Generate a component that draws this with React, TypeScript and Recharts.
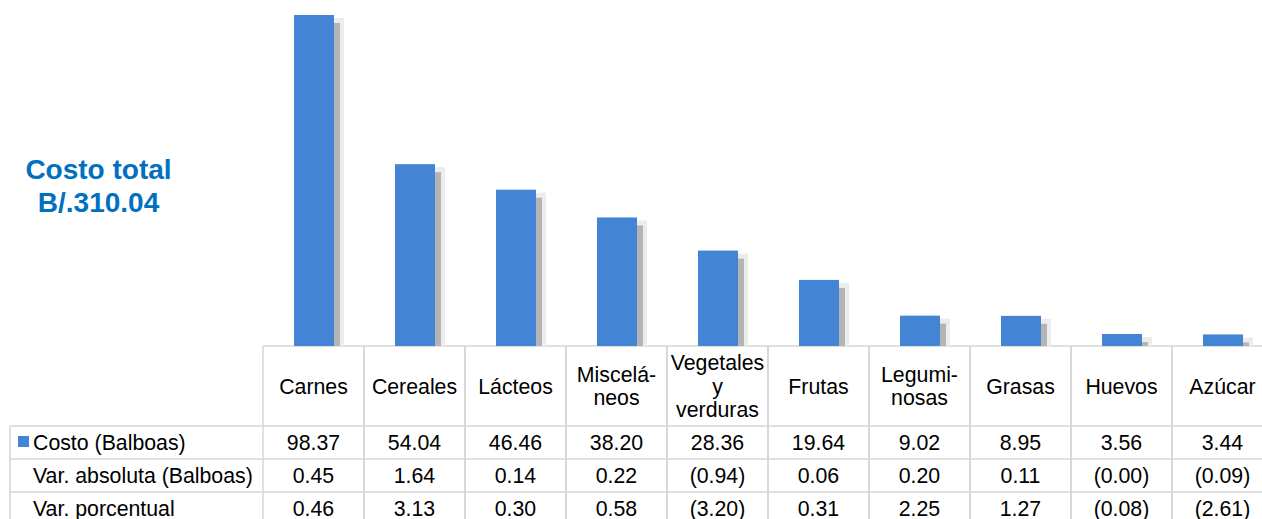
import { Bar, BarChart, XAxis, YAxis, Customized } from "recharts";

const categories = [
  "Carnes",
  "Cereales",
  "Lácteos",
  "Miscelá-\nneos",
  "Vegetales\ny\nverduras",
  "Frutas",
  "Legumi-\nnosas",
  "Grasas",
  "Huevos",
  "Azúcar",
];
const costo = [98.37, 54.04, 46.46, 38.2, 28.36, 19.64, 9.02, 8.95, 3.56, 3.44];
const varAbsoluta = [0.45, 1.64, 0.14, 0.22, -0.94, 0.06, 0.2, 0.11, -0, -0.09];
const varPorcentual = [0.46, 3.13, 0.3, 0.58, -3.2, 0.31, 2.25, 1.27, -0.08, -2.61];
const rowLabels = ["Costo (Balboas)", "Var. absoluta (Balboas)", "Var. porcentual"];

const data = categories.map((name, i) => ({
  name,
  costo: costo[i],
  varAbs: varAbsoluta[i],
  varPct: varPorcentual[i],
}));

const BLUE = "#4484d4";
const GRID = "#d6d6d6";
const FONT = "'Liberation Sans', Arial, sans-serif";

const LEFT = 263;
const TOP = 15;
const BASE = 346;
const WIDTH = 1273;
const HEIGHT = 519;
const COL_W = (WIDTH - LEFT) / categories.length;
const HEADER_BOTTOM = 426;
const ROW_H = 33;

const fmt = (v: number) =>
  v < 0 || Object.is(v, -0) ? `(${Math.abs(v).toFixed(2)})` : v.toFixed(2);

// bar with the soft grey drop shadow on the right
function ShadowBar(props: any) {
  const { x, y, width, height } = props;
  if (height <= 0) return null;
  return (
    <g>
      <rect x={x + 3} y={y + 3} width={width + 7} height={height - 3} fill="#ececec" />
      <rect x={x + 5} y={y + 8} width={width + 1} height={height - 8} fill="#b4b4b4" />
      <rect x={x} y={y} width={width} height={height} fill={BLUE} />
    </g>
  );
}

function TableTick(props: any) {
  const { x, payload, index } = props;
  const left = x - COL_W / 2;
  const lines = String(payload.value).split("\n");
  const lh = 23.5;
  const headerMid = (BASE + HEADER_BOTTOM) / 2;
  const startY = headerMid - ((lines.length - 1) * lh) / 2 + 7.5;
  const vals = [fmt(costo[index]), fmt(varAbsoluta[index]), fmt(varPorcentual[index])];
  return (
    <g fontFamily={FONT} fontSize={21.3} fill="#000">
      <line x1={left} y1={BASE} x2={left} y2={HEIGHT} stroke={GRID} strokeWidth={1.5} />
      <line x1={left + COL_W} y1={BASE} x2={left + COL_W} y2={HEIGHT} stroke={GRID} strokeWidth={1.5} />
      {lines.map((l, i) => (
        <text key={i} x={x} y={startY + i * lh} textAnchor="middle" fill="#000">
          {l}
        </text>
      ))}
      {vals.map((v, i) => (
        <text
          key={"v" + i}
          x={x}
          y={HEADER_BOTTOM + ROW_H * i + ROW_H / 2 + 7.5}
          textAnchor="middle"
          fill="#000"
        >
          {v}
        </text>
      ))}
    </g>
  );
}

function TableFrame() {
  return (
    <g fontFamily={FONT} fontSize={21.3}>
      <line x1={LEFT} y1={BASE} x2={WIDTH} y2={BASE} stroke={GRID} strokeWidth={1.5} />
      {[0, 1, 2, 3].map((i) => (
        <line
          key={i}
          x1={10}
          y1={HEADER_BOTTOM + ROW_H * i}
          x2={WIDTH}
          y2={HEADER_BOTTOM + ROW_H * i}
          stroke={GRID}
          strokeWidth={1.5}
        />
      ))}
      <line x1={10} y1={HEADER_BOTTOM} x2={10} y2={HEIGHT} stroke={GRID} strokeWidth={1.5} />
      <rect x={18} y={436} width={11} height={11} fill={BLUE} />
      {rowLabels.map((l, i) => (
        <text key={l} x={33} y={HEADER_BOTTOM + ROW_H * i + ROW_H / 2 + 7.5} fill="#000">
          {l}
        </text>
      ))}
      <text
        x={98.5}
        y={179}
        textAnchor="middle"
        fontSize={28}
        fontWeight="bold"
        fill="#0070c0"
      >
        Costo total
      </text>
      <text
        x={98.5}
        y={212}
        textAnchor="middle"
        fontSize={28}
        fontWeight="bold"
        fill="#0070c0"
      >
        B/.310.04
      </text>
    </g>
  );
}

export default function App() {
  return (
    <div
      style={{
        position: "fixed",
        left: 0,
        top: 0,
        width: 1262,
        height: 519,
        overflow: "hidden",
        background: "#fff",
      }}
    >
      <BarChart
        width={WIDTH}
        height={HEIGHT}
        data={data}
        margin={{ top: TOP, right: 0, bottom: 0, left: LEFT }}
      >
        <XAxis
          dataKey="name"
          height={HEIGHT - BASE}
          axisLine={false}
          tickLine={false}
          interval={0}
          tick={<TableTick />}
        />
        <YAxis hide domain={[0, 98.37]} />
        <Customized component={<TableFrame />} />
        <Bar dataKey="costo" barSize={40} shape={<ShadowBar />} isAnimationActive={false} />
      </BarChart>
    </div>
  );
}
